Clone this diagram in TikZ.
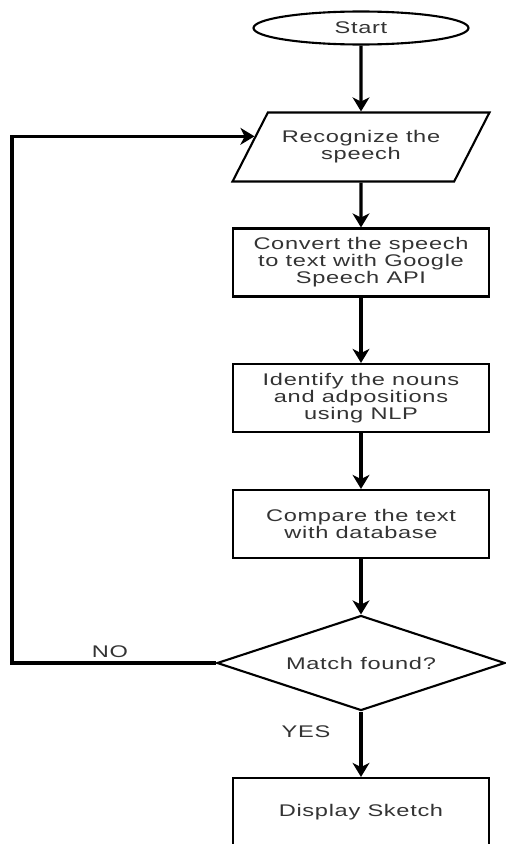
\documentclass[tikz,border=0pt]{standalone}
\usepackage{fontspec}
\setmainfont{Liberation Sans}[FakeStretch=1.4, LetterSpace=4]
\usepackage{tikz}
\usetikzlibrary{
    shapes.geometric,
    arrows.meta,
    positioning,
    calc
}

\begin{document}
\begin{tikzpicture}[
    flowline/.style={-{Stealth[length=10pt, width=12pt, inset=3pt]}, line width=2.2pt},
    procbox/.style={draw, line width=1.5pt, minimum width=6.4cm, minimum height=1.7cm, align=center, text=black!80, font=\fontsize{12pt}{10.8pt}\selectfont},
    lbl/.style={text=black!80, font=\fontsize{12pt}{10.8pt}\selectfont}
]
                \useasboundingbox (0,0) rectangle (12.65,-21.1);

                % Start
                \node[draw, ellipse, line width=1.5pt, minimum width=5.375cm, minimum height=0.825cm, lbl] (start) at (9.025, -0.7) {Start};

                % Input
                \node[draw, trapezium, trapezium left angle=53, trapezium right angle=127, trapezium stretches=true, line width=1.5pt, minimum width=6.425cm, minimum height=1.725cm, align=center, lbl] (recog) at (9.025, -3.675) {Recognize the\\speech};

                % Processing steps
                \node[procbox] (convert) at (9.025, -6.5625) {Convert the speech\\to text with Google\\Speech API};
                \node[procbox] (nlp) at (9.025, -9.95) {Identify the nouns\\and adpositions\\using NLP};
                \node[procbox] (compare) at (9.025, -13.1) {Compare the text\\with database};

                % Decision
                \node[draw, diamond, aspect=3, inner sep=0pt, line width=1.5pt, minimum width=7.2cm, minimum height=2.375cm, lbl] (match) at (9.025, -16.575) {Match found?};

                % Output
                \node[procbox] (display) at (9.025, -20.3) {Display Sketch};

                % Labels
                \node[lbl] (nolbl) at (2.75, -16.3) {NO};
                \node[lbl] (yeslbl) at (7.65, -18.3) {YES};

                \coordinate (entry) at ($(recog.bottom left corner)!0.65!(recog.top left corner)$);
                \coordinate (loopbend) at (0.3, -16.575);

                \draw[flowline] (start) -- (recog);
                \draw[flowline] (recog) -- (convert);
                \draw[flowline] (convert) -- (nlp);
                \draw[flowline] (nlp) -- (compare);
                \draw[flowline] (compare) -- (match);
                \draw[flowline] (match) -- (display);
                \draw[flowline] (match.west) -- (loopbend) |- (entry);
            \end{tikzpicture}
\end{document}
